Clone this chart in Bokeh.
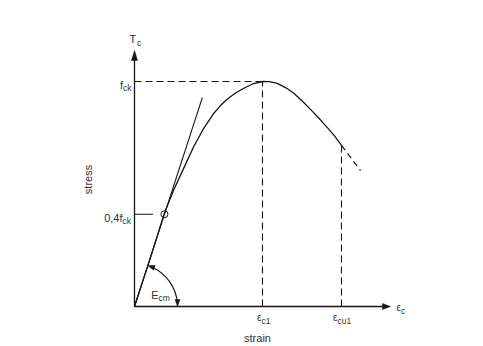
import math
from bokeh.plotting import figure
from bokeh.models import Range1d, Label
from bokeh.embed import file_html
from bokeh.resources import INLINE

# ---- data: strain relative to eps_c1, stress relative to f_ck
curve_strain = [0.0, 0.117, 0.234, 0.307, 0.385, 0.463, 0.541, 0.620, 0.672, 0.724,
                0.789, 0.854, 0.922, 1.0, 1.055, 1.115, 1.18, 1.245, 1.31, 1.375,
                1.4375, 1.505, 1.5625, 1.617]
curve_stress = [0.0, 0.204, 0.415, 0.519, 0.615, 0.711, 0.792, 0.859, 0.893, 0.921,
                0.949, 0.970, 0.989, 1.0, 0.999, 0.992, 0.973, 0.948, 0.913, 0.876,
                0.839, 0.796, 0.758, 0.716]
ext_strain = [1.617, 1.766]
ext_stress = [0.716, 0.604]

eps_c1 = 1.0
eps_cu1 = 1.617
f_ck = 1.0
sigma_mark = 0.41          # "0,4 f_ck" level
eps_mark = 0.234           # strain at 0,4 f_ck
tangent_end = 0.53         # strain at end of E_cm line
x_axis_end = 2.0
y_axis_end = 1.138
tick_len = 0.145

# ---- figure geometry (pixels per data unit)
W, H = 483, 346
SX, SY = 128.0, 225.0
OX, OY = 134.0, 40.0       # origin position in pixels from left / from bottom

LINE = "#151515"
TEXT = "#333333"
FONT = "Liberation Sans"

p = figure(width=W, height=H,
           x_range=Range1d(-OX / SX, (W - OX) / SX),
           y_range=Range1d(-OY / SY, (H - OY) / SY),
           output_backend="svg", toolbar_location=None, min_border=0,
           x_axis_type=None, y_axis_type=None)
p.xgrid.visible = False
p.ygrid.visible = False
p.outline_line_color = None
p.background_fill_color = "white"
p.border_fill_color = "white"


def head(xd, yd, ux, uy, length, width):
    n = math.hypot(ux, uy)
    ux, uy = ux / n, uy / n
    bx, by = -ux * length, -uy * length
    qx, qy = -uy * width / 2, ux * width / 2
    xs = [xd, xd + (bx + qx) / SX, xd + (bx - qx) / SX]
    ys = [yd, yd + (by + qy) / SY, yd + (by - qy) / SY]
    p.patch(xs, ys, fill_color=LINE, line_color=LINE, line_width=0.5)


def lab(xd, yd, dx, dy, text, size, align="left", baseline="alphabetic", angle=0.0):
    p.add_layout(Label(x=xd + dx / SX, y=yd - dy / SY, text=text,
                       text_font=FONT, text_font_size=size, text_color=TEXT,
                       text_align=align, text_baseline=baseline, angle=angle))


# axes
p.line([0, 0], [0, y_axis_end - 8 / SY], line_color=LINE, line_width=1.3)
p.line([0, x_axis_end - 6 / SX], [0, 0], line_color=LINE, line_width=1.3)
head(0, y_axis_end, 0, 1, 10, 6)
head(x_axis_end, 0, 1, 0, 8, 6)

# helper dashed lines
p.line([0, eps_c1], [f_ck, f_ck], line_color=LINE, line_width=1.1, line_dash="7 4")
p.line([eps_c1, eps_c1], [0, f_ck], line_color=LINE, line_width=1.1, line_dash="7 4")
p.line([eps_cu1, eps_cu1], [0, curve_stress[-1]], line_color=LINE, line_width=1.1,
       line_dash="7 4")

# stress-strain curve
p.line(curve_strain, curve_stress, line_color=LINE, line_width=1.3, line_join="round")
p.line(ext_strain, ext_stress, line_color=LINE, line_width=1.2, line_dash="6 4")

# E_cm secant line
slope = sigma_mark / eps_mark
p.line([0, tangent_end], [0, tangent_end * slope], line_color=LINE, line_width=1.1)

# 0,4 f_ck tick and marker
p.line([0, tick_len], [sigma_mark, sigma_mark], line_color=LINE, line_width=1.1)
p.scatter([eps_mark], [sigma_mark], marker="circle", size=7, fill_color=None,
          line_color=LINE, line_width=1.0)

# E_cm angle arc with arrow heads
theta = math.atan2(slope * SY, SX)
R = 43
p.arc(x=0, y=0, radius=R, radius_units="screen", start_angle=0.08,
      end_angle=theta - 0.12, line_color=LINE, line_width=1.2)
head(R * math.cos(theta) / SX, R * math.sin(theta) / SY,
     -math.sin(theta), math.cos(theta), 7, 5)
head(R / SX, 0, 0, -1, 7, 5)

# texts
lab(0, y_axis_end, -5, -11, "T", "11px")
lab(0, y_axis_end, 2.5, -7, "c", "8.5px")
lab(0, f_ck, -11.5, 3, "f", "11px", align="right")
lab(0, f_ck, -11.5, 6, "ck", "8.5px")
lab(0, sigma_mark, -12, 3.5, "0,4f", "11px", align="right")
lab(0, sigma_mark, -12, 6.5, "ck", "8.5px")
lab(0, 0, 24, -12, "E", "11px", align="right")
lab(0, 0, 24, -9, "cm", "8.5px")
lab(eps_c1, 0, -1, 11, "ε", "10px", align="right")
lab(eps_c1, 0, -1, 14, "c1", "8.5px")
lab(eps_cu1, 0, -4, 11, "ε", "10px", align="right")
lab(eps_cu1, 0, -4, 14, "cu1", "8.5px")
lab(x_axis_end, 0, 6, 1, "ε", "10px")
lab(x_axis_end, 0, 10.5, 4, "c", "8.5px")
lab(eps_c1, 0, -5, 31, "strain", "11px", align="center")
lab(0, 0, -46.5, -127, "stress", "11px", align="center", baseline="middle",
    angle=math.pi / 2)

open("out.html", "w").write(file_html(p, INLINE))
